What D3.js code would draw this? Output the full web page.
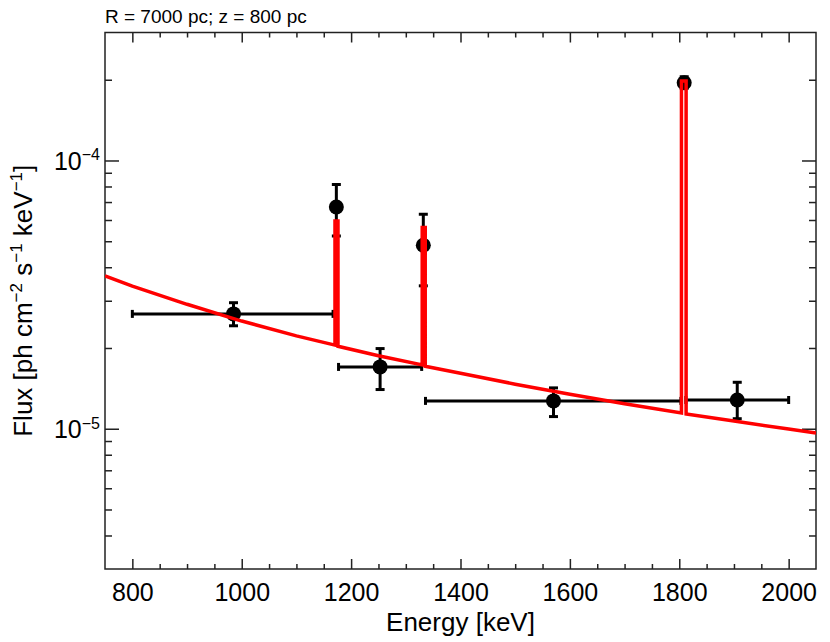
<!DOCTYPE html>
<html>
<head>
<meta charset="utf-8">
<script src="https://cdn.jsdelivr.net/npm/d3@7"></script>
<style>
  html, body { margin: 0; padding: 0; background: #fff; }
  svg { display: block; font-family: "Liberation Sans", Arial, Helvetica, sans-serif; }
</style>
</head>
<body>
<svg id="chart" width="830" height="642"></svg>
<script>
// ---- data ----
const titleText = "R = 7000 pc; z = 800 pc";
const xLabel = "Energy [keV]";

// measured points (energy centre, flux, vertical error range, energy bin)
const pointE    = [985, 1173, 1253, 1332, 1570, 1809, 1906];
const pointFlux = [2.68e-5, 6.71e-5, 1.70e-5, 4.83e-5, 1.27e-5, 1.95e-4, 1.28e-5];
const errLow    = [2.42e-5, 5.23e-5, 1.40e-5, 3.41e-5, 1.11e-5, 1.86e-4, 1.09e-5];
const errHigh   = [2.95e-5, 8.14e-5, 1.99e-5, 6.30e-5, 1.42e-5, 2.05e-4, 1.49e-5];
const binLow    = [800, 1168, 1177, 1328, 1336, 1804, 1812];
const binHigh   = [1167, 1178, 1329, 1337, 1803, 1813, 2000];

// model curve (continuum + narrow lines)
const modelE    = [750, 800, 900, 1000, 1100, 1170.5, 1170.5, 1176, 1176, 1250, 1330, 1330, 1335.5, 1335.5,
                   1400, 1500, 1600, 1700, 1804, 1804, 1812.5, 1812.5, 1900, 2000, 2050];
const modelFlux = [3.71e-5, 3.40e-5, 2.91e-5, 2.52e-5, 2.22e-5, 2.05e-5, 5.95e-5, 5.95e-5, 2.03e-5, 1.87e-5,
                   1.73e-5, 5.62e-5, 5.62e-5, 1.71e-5, 1.61e-5, 1.466e-5, 1.344e-5, 1.239e-5, 1.145e-5,
                   1.98e-4, 1.98e-4, 1.136e-5, 1.068e-5, 9.97e-6, 9.64e-6];

// axes
const xDomain = [750, 2050];
const yDomain = [3e-6, 3e-4];
const xMajorTicks = [800, 1000, 1200, 1400, 1600, 1800, 2000];
const xMinorTicks = [850, 900, 950, 1050, 1100, 1150, 1250, 1300, 1350, 1450, 1500, 1550,
                     1650, 1700, 1750, 1850, 1900, 1950];
const yMajorTicks = [1e-5, 1e-4];
const yMajorExp   = ["−5", "−4"];
const yMinorTicks = [4e-6, 5e-6, 6e-6, 7e-6, 8e-6, 9e-6,
                     2e-5, 3e-5, 4e-5, 5e-5, 6e-5, 7e-5, 8e-5, 9e-5, 2e-4];

// ---- drawing ----
const L = 105, R = 816, T = 32.5, B = 569;
const svg = d3.select("#chart");
const x = d3.scaleLinear().domain(xDomain).range([L, R]);
const y = d3.scaleLog().domain(yDomain).range([B, T]);

const axisColor = "#222";

function styleAxis(g) {
  g.select(".domain").remove();
  g.selectAll(".tick line").attr("stroke", axisColor).attr("stroke-width", 1.5);
}

// bottom axis
svg.append("g").attr("transform", `translate(0,${B})`)
  .call(d3.axisBottom(x).tickValues(xMinorTicks).tickSize(-5).tickFormat(""))
  .call(styleAxis);
const xb = svg.append("g").attr("transform", `translate(0,${B})`)
  .call(d3.axisBottom(x).tickValues(xMajorTicks).tickSize(-10).tickPadding(14).tickFormat(d3.format("d")))
  .call(styleAxis);
xb.selectAll(".tick text").attr("font-size", 25).attr("fill", "#000")
  .attr("font-family", "'Liberation Sans', Arial, sans-serif");

// top axis
svg.append("g").attr("transform", `translate(0,${T})`)
  .call(d3.axisTop(x).tickValues(xMinorTicks).tickSize(-5).tickFormat(""))
  .call(styleAxis);
svg.append("g").attr("transform", `translate(0,${T})`)
  .call(d3.axisTop(x).tickValues(xMajorTicks).tickSize(-10).tickFormat(""))
  .call(styleAxis);

// left axis
svg.append("g").attr("transform", `translate(${L},0)`)
  .call(d3.axisLeft(y).tickValues(yMinorTicks).tickSize(-7).tickFormat(""))
  .call(styleAxis);
svg.append("g").attr("transform", `translate(${L},0)`)
  .call(d3.axisLeft(y).tickValues(yMajorTicks).tickSize(-14).tickFormat(""))
  .call(styleAxis);

// right axis
svg.append("g").attr("transform", `translate(${R},0)`)
  .call(d3.axisRight(y).tickValues(yMinorTicks).tickSize(-7).tickFormat(""))
  .call(styleAxis);
svg.append("g").attr("transform", `translate(${R},0)`)
  .call(d3.axisRight(y).tickValues(yMajorTicks).tickSize(-14).tickFormat(""))
  .call(styleAxis);

// y tick labels with superscript exponents
yMajorTicks.forEach((v, i) => {
  const t = svg.append("text")
    .attr("x", 100).attr("y", y(v) + 9.5)
    .attr("text-anchor", "end").attr("font-size", 25).attr("fill", "#000");
  t.append("tspan").text("10");
  t.append("tspan").attr("font-size", 16).attr("dy", -9.5).text(yMajorExp[i]);
});

// frame
svg.append("rect").attr("x", L).attr("y", T).attr("width", R - L).attr("height", B - T)
  .attr("fill", "none").attr("stroke", axisColor).attr("stroke-width", 1.5);

// clip for data
svg.append("clipPath").attr("id", "clip")
  .append("rect").attr("x", L).attr("y", T).attr("width", R - L).attr("height", B - T);
const plot = svg.append("g").attr("clip-path", "url(#clip)");

// data points with error bars
const pts = pointE.map((e, i) => ({
  e, f: pointFlux[i], lo: errLow[i], hi: errHigh[i], b0: binLow[i], b1: binHigh[i]
}));
const capV = 4.5, capH = 4;
const eb = plot.append("g").attr("stroke", "#000").attr("stroke-width", 3).attr("fill", "none");
pts.forEach(p => {
  const cx = x(p.e), cy = y(p.f);
  // horizontal bar
  eb.append("line").attr("x1", x(p.b0)).attr("x2", x(p.b1)).attr("y1", cy).attr("y2", cy);
  eb.append("line").attr("x1", x(p.b0)).attr("x2", x(p.b0)).attr("y1", cy - capH).attr("y2", cy + capH);
  eb.append("line").attr("x1", x(p.b1)).attr("x2", x(p.b1)).attr("y1", cy - capH).attr("y2", cy + capH);
  // vertical bar
  eb.append("line").attr("x1", cx).attr("x2", cx).attr("y1", y(p.lo)).attr("y2", y(p.hi));
  eb.append("line").attr("x1", cx - capV).attr("x2", cx + capV).attr("y1", y(p.lo)).attr("y2", y(p.lo));
  eb.append("line").attr("x1", cx - capV).attr("x2", cx + capV).attr("y1", y(p.hi)).attr("y2", y(p.hi));
});
plot.append("g").selectAll("circle").data(pts).join("circle")
  .attr("cx", d => x(d.e)).attr("cy", d => y(d.f)).attr("r", 7.5).attr("fill", "#000");

// model line
const model = modelE.map((e, i) => [e, modelFlux[i]]);
plot.append("path").datum(model)
  .attr("d", d3.line().x(d => x(d[0])).y(d => y(d[1])))
  .attr("fill", "none").attr("stroke", "#ff0000").attr("stroke-width", 3.5)
  .attr("stroke-linejoin", "miter");

// title
svg.append("text").attr("x", L).attr("y", 22.5).attr("font-size", 19).attr("fill", "#000").text(titleText);

// x label
svg.append("text").attr("x", (L + R) / 2).attr("y", 631).attr("text-anchor", "middle")
  .attr("font-size", 26).attr("fill", "#000").text(xLabel);

// y label with superscripts
const yl = svg.append("text").attr("transform", `translate(32,${(T + B) / 2}) rotate(-90)`)
  .attr("text-anchor", "middle").attr("font-size", 26).attr("fill", "#000");
const ylParts = [["Flux [ph cm", false], ["−2", true], [" s", false], ["−1", true], [" keV", false], ["−1", true], ["]", false]];
let prevSup = false;
ylParts.forEach(([txt, sup]) => {
  const ts = yl.append("tspan").text(txt);
  if (sup) { ts.attr("font-size", 17).attr("dy", prevSup ? 0 : -10); }
  else if (prevSup) { ts.attr("dy", 10); }
  prevSup = sup;
});
</script>
</body>
</html>
